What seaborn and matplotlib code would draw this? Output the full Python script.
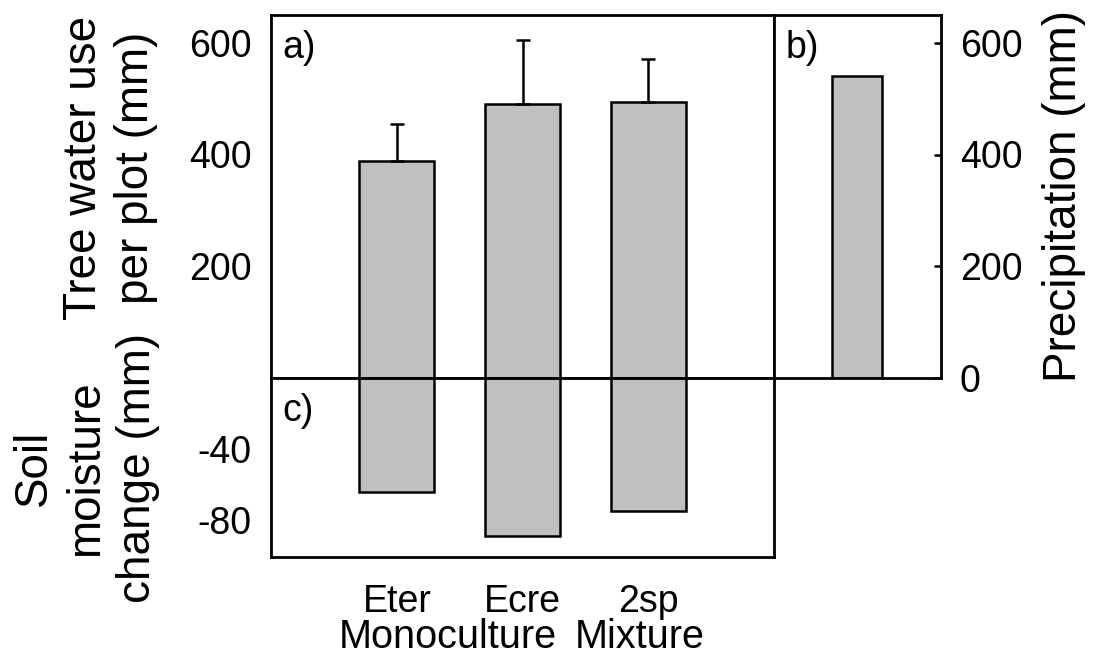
import matplotlib
matplotlib.use('Agg')
import matplotlib.pyplot as plt
import matplotlib.transforms as mtransforms
import seaborn as sns
import pandas as pd

# ---- data ----
treatments = ['Eter', 'Ecre', '2sp']
water_use = [389, 491, 494]
water_use_err = [65, 114, 78]
precip_label = ['Precipitation']
precipitation = [540]
soil_change = [-64, -89, -75]
ticks_a = [0, 200, 400, 600]
ticklabels_a = ['', '200', '400', '600']
ticks_b = [0, 200, 400, 600]
ticks_c = [-80, -40, 0]
ticklabels_c = ['-80', '-40', '']
groups = ['Monoculture', 'Mixture']
group_pos = [0.41, 1.93]

sns.set_style('white')
plt.rcParams['font.family'] = ['Liberation Sans', 'DejaVu Sans']
for k in ('text.color', 'axes.labelcolor', 'xtick.color', 'ytick.color',
          'axes.edgecolor'):
    plt.rcParams[k] = 'black'

W, H = 1093, 660
fig = plt.figure(figsize=(W / 100, H / 100), dpi=100)


def rect(l, t, r, b):
    return [l / W, 1 - b / H, (r - l) / W, (b - t) / H]


ax_a = fig.add_axes(rect(271, 15, 774, 377.7))
ax_b = fig.add_axes(rect(774, 15, 940.5, 377.7))
ax_c = fig.add_axes(rect(271, 377.7, 774, 556.7))

bar_kw = dict(color='#c0c0c0', edgecolor='black', linewidth=1.8, width=0.6,
              errorbar=None, saturation=1)

df_a = pd.DataFrame({'treatment': treatments, 'value': water_use})
sns.barplot(data=df_a, x='treatment', y='value', ax=ax_a, **bar_kw)
ax_a.errorbar(range(len(treatments)), water_use,
              yerr=[[0] * len(water_use_err), water_use_err],
              fmt='none', ecolor='black', elinewidth=1.8, capsize=4.7,
              capthick=1.8, zorder=1)

df_b = pd.DataFrame({'item': precip_label, 'value': precipitation})
sns.barplot(data=df_b, x='item', y='value', ax=ax_b, **bar_kw)

df_c = pd.DataFrame({'treatment': treatments, 'value': soil_change})
sns.barplot(data=df_c, x='treatment', y='value', ax=ax_c, **bar_kw)

TICK_FS = 27
ytick_kw = dict(axis='y', direction='in', length=5, width=1.8,
                labelsize=TICK_FS, pad=14, colors='black')
# panel a
ax_a.set_xlim(-1, 3)
ax_a.set_ylim(0, 650)
ax_a.set_xticks([])
ax_a.set_yticks(ticks_a)
ax_a.set_yticklabels(ticklabels_a)
ax_a.set_xlabel('')
ax_a.set_ylabel('')
ax_a.tick_params(**ytick_kw)

# panel b
ax_b.set_xlim(-1, 1)
ax_b.set_ylim(0, 650)
ax_b.set_xticks([])
ax_b.set_xlabel('')
ax_b.yaxis.tick_right()
ax_b.yaxis.set_label_position('right')
ax_b.set_yticks(ticks_b)
ax_b.tick_params(**ytick_kw)
ax_b.set_ylabel('Precipitation (mm)', fontsize=33, labelpad=14)

# panel c
ax_c.set_xlim(-1, 3)
ax_c.set_ylim(-100.5, 0)
ax_c.set_yticks(ticks_c)
ax_c.set_yticklabels(ticklabels_c)
ax_c.set_xticks(range(len(treatments)))
ax_c.set_xticklabels(treatments)
ax_c.set_xlabel('')
ax_c.set_ylabel('')
ax_c.tick_params(**ytick_kw)
ax_c.tick_params(axis='x', length=0, labelsize=27, pad=20)

trans = mtransforms.blended_transform_factory(ax_c.transData, ax_c.transAxes)
for g, xp in zip(groups, group_pos):
    ax_c.annotate(g, xy=(xp, 0), xycoords=trans, xytext=(0, -66),
                  textcoords='offset points', ha='center', va='baseline',
                  fontsize=28.5)

for ax in (ax_a, ax_b, ax_c):
    for s in ax.spines.values():
        s.set_linewidth(2.0)
        s.set_color('black')

# panel letters
for ax, lab in ((ax_a, 'a)'), (ax_b, 'b)'), (ax_c, 'c)')):
    ax.annotate(lab, xy=(0, 1), xycoords='axes fraction', xytext=(8, -11),
                textcoords='offset points', ha='left', va='top', fontsize=27)

# left y-labels
fig.text(110 / W, 1 - 168 / H, 'Tree water use\nper plot (mm)', rotation=90,
         ha='center', va='center', multialignment='center', fontsize=33,
         linespacing=1.25)
fig.text(86 / W, 1 - 468 / H, 'Soil\nmoisture\nchange (mm)', rotation=90,
         ha='center', va='center', multialignment='center', fontsize=33,
         linespacing=1.25)

fig.savefig('out.png', dpi=100)
